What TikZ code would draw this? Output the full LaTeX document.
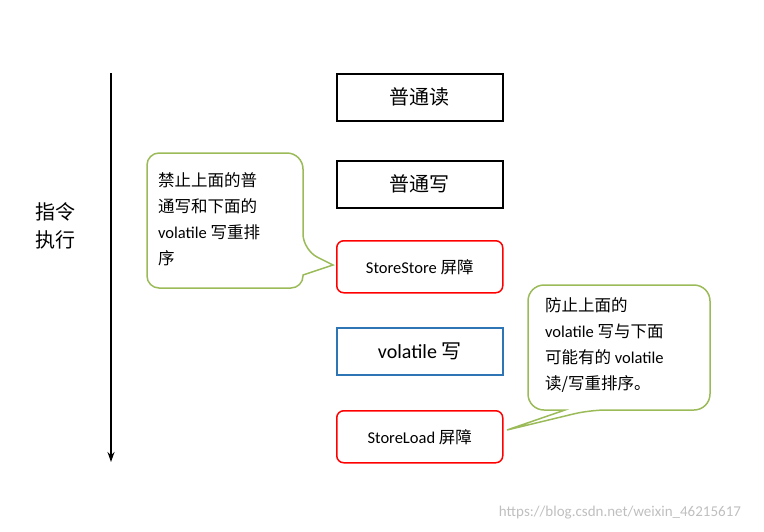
\documentclass[tikz,border=0pt]{standalone}
\usepackage{fontspec}
\usetikzlibrary{arrows.meta}
\setmainfont{Carlito}
\newfontfamily\cjk{Noto Sans CJK SC}
\definecolor{gr}{HTML}{9BBB59}
\definecolor{bl}{HTML}{2E75B6}
\begin{document}
\begin{tikzpicture}[x=1pt,y=-1pt,line width=1.5pt,
  plain/.style={draw=black,minimum width=166pt,minimum height=47pt,anchor=north west,font=\fontsize{20}{24}\selectfont},
  redbox/.style={draw=red,rounded corners=7pt,minimum width=166pt,minimum height=52pt,anchor=north west,font=\fontsize{16.5}{20}\selectfont},
  txt/.style={align=left,anchor=north west,font=\fontsize{16.5}{26}\selectfont}]
\useasboundingbox (0,0) rectangle (764,531);
\coordinate (a0) at (111,73); \coordinate (a1) at (111,462);
\draw[-{Stealth[length=10pt,width=7pt]}] (a0) -- (a1);
\node[font=\fontsize{20}{28}\selectfont,align=center] (lbl) at (55,226) {\cjk 指令\\\cjk 执行};
\node[plain] (r) at (336,73) {\cjk 普通读};
\node[plain] (w) at (336,160) {\cjk 普通写};
\node[redbox] (ss) at (336,240) {StoreStore {\cjk 屏障}};
\node[plain,draw=bl] (vw) at (336,327) {volatile {\cjk 写}};
\node[redbox] (sl) at (336,410) {StoreLoad {\cjk 屏障}};
\coordinate (t1) at (333,265);
\draw[gr,rounded corners=16pt] (147,153) -- (303,153) -- (303,250) [sharp corners]-- (t1) -- (303,275) [rounded corners=12pt]-- (303,288) -- (147,288) -- cycle;
\node[txt] (c1) at (154,168) {\cjk 禁止上面的普\\\cjk 通写和下面的\\volatile {\cjk 写重排}\\\cjk 序};
\coordinate (t2) at (507,430);
\draw[gr,rounded corners=16pt] (528,285) -- (710,285) -- (710,410) -- (590,410) [sharp corners]-- (t2) -- (565,410) [rounded corners=16pt]-- (528,410) -- cycle;
\node[txt] (c2) at (541,293) {\cjk 防止上面的\\volatile {\cjk 写与下面}\\{\cjk 可能有的} volatile\\{\cjk 读/写重排序。}};
\node[text=gray!50,font=\fontsize{15}{17}\selectfont] (wm) at (620,513) {https://blog.csdn.net/weixin\_46215617};
\end{tikzpicture}
\end{document}
